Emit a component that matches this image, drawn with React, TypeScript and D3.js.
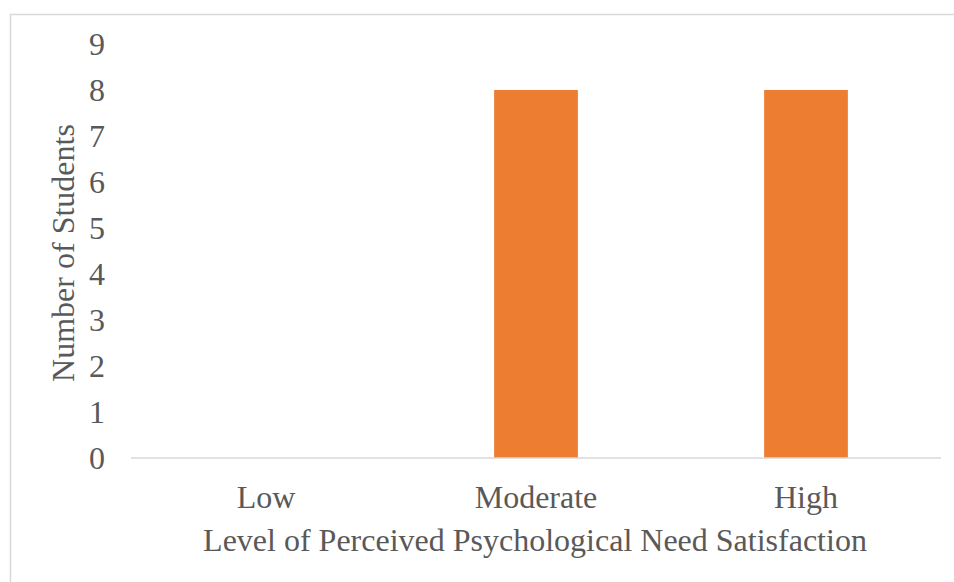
import React from "react";
import * as d3 from "d3";

const categories = ["Low", "Moderate", "High"];
const students = [0, 8, 8];
const yTicks = [0, 1, 2, 3, 4, 5, 6, 7, 8, 9];

const W = 954;
const H = 582;
const plot = { left: 131, right: 941, top: 44, bottom: 458 };
const font = "'Liberation Serif', 'Times New Roman', serif";
const fontSize = 32;
const textColor = "#595959";

export default function App() {
  const x = d3
    .scaleBand<string>()
    .domain(categories)
    .range([plot.left, plot.right])
    .paddingInner(0.69)
    .paddingOuter(0.345);
  const y = d3.scaleLinear().domain([0, 9]).range([plot.bottom, plot.top]);

  return (
    <svg
      width={W}
      height={H}
      style={{ position: "absolute", left: 0, top: 0, background: "#fff" }}
    >
      {/* chart frame: top and left edges */}
      <line x1={10} y1={14.5} x2={W} y2={14.5} stroke="#d9d9d9" strokeWidth={1.5} />
      <line x1={10.5} y1={14} x2={10.5} y2={H} stroke="#d9d9d9" strokeWidth={1.5} />

      {/* value axis labels */}
      {yTicks.map((t) => (
        <text
          key={t}
          x={105}
          y={y(t)}
          dy="0.35em"
          textAnchor="end"
          fontFamily={font}
          fontSize={fontSize}
          fill={textColor}
        >
          {t}
        </text>
      ))}

      {/* bars */}
      {categories.map((c, i) =>
        students[i] > 0 ? (
          <rect
            key={c}
            x={x(c)}
            y={y(students[i])}
            width={x.bandwidth()}
            height={y(0) - y(students[i])}
            fill="#ed7d31"
          />
        ) : null
      )}

      {/* baseline */}
      <line
        x1={plot.left}
        y1={y(0)}
        x2={plot.right}
        y2={y(0)}
        stroke="#d9d9d9"
        strokeWidth={1.5}
      />

      {/* category labels */}
      {categories.map((c) => (
        <text
          key={c}
          x={(x(c) ?? 0) + x.bandwidth() / 2}
          y={497}
          dy="0.35em"
          textAnchor="middle"
          fontFamily={font}
          fontSize={fontSize}
          fill={textColor}
        >
          {c}
        </text>
      ))}

      {/* axis titles */}
      <text
        x={535}
        y={540}
        dy="0.35em"
        textAnchor="middle"
        fontFamily={font}
        fontSize={fontSize}
        fill={textColor}
      >
        Level of Perceived Psychological Need Satisfaction
      </text>
      <text
        transform={`translate(63, 253) rotate(-90)`}
        dy="0.35em"
        textAnchor="middle"
        fontFamily={font}
        fontSize={fontSize}
        fill={textColor}
      >
        Number of Students
      </text>
    </svg>
  );
}
